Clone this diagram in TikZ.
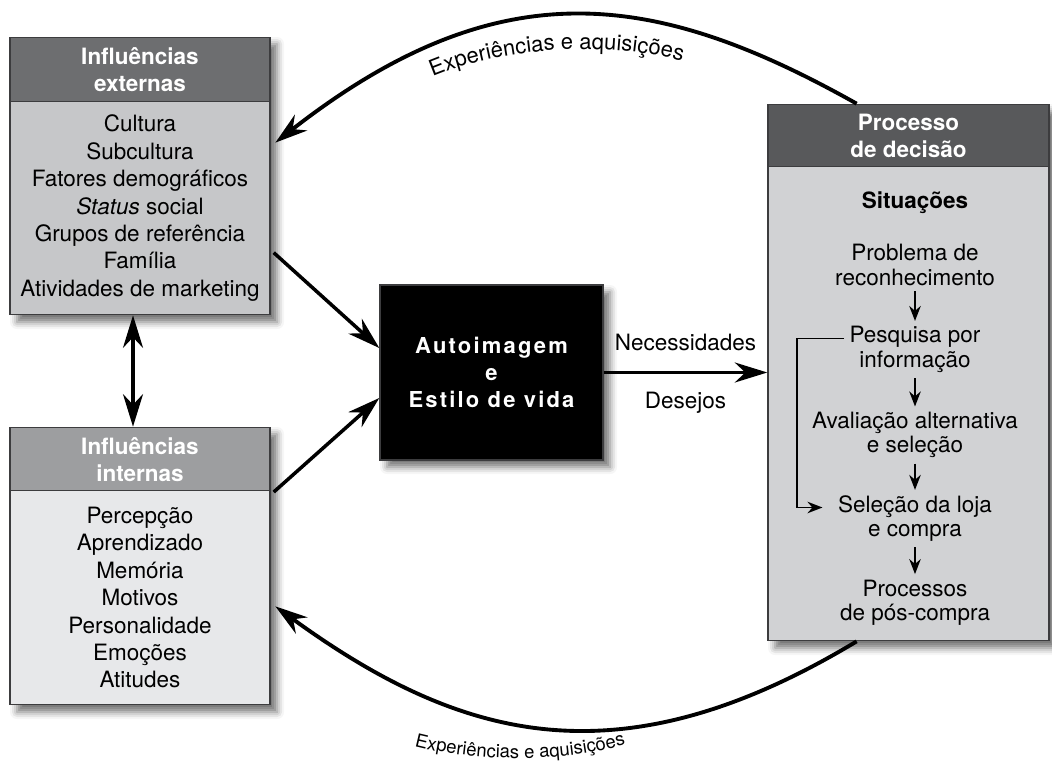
\documentclass[tikz,border=0pt]{standalone}
\usepackage{fontspec}
\setmainfont{TeX Gyre Heros}
\newfontfamily\spacedbf[LetterSpace=10]{TeX Gyre Heros}
\usetikzlibrary{arrows.meta,positioning,calc,shadows.blur,decorations.text}
\definecolor{framegray}{HTML}{3C3C3E}
\definecolor{extheadgray}{HTML}{6D6E70}
\definecolor{extbodygray}{HTML}{C6C7C9}
\definecolor{intheadgray}{HTML}{9D9EA0}
\definecolor{intbodygray}{HTML}{E7E8EA}
\definecolor{pdheadgray}{HTML}{58595B}
\definecolor{pdbodygray}{HTML}{D1D2D4}
\tikzset{
  boxshadow/.style={fill=white, inner sep=0pt, blur shadow={shadow xshift=4pt, shadow yshift=-4pt, shadow blur radius=4pt, shadow opacity=55}},
  headbox/.style={draw=framegray, line width=0.8pt, text=white, font=\bfseries, align=center, inner sep=0pt},
  bodybox/.style={draw=framegray, line width=0.8pt, align=center, inner sep=0pt},
  flowtext/.style={align=center, inner sep=3pt, font=\fontsize{12.8}{13.8}\selectfont},
  bigarrow/.style={-{Stealth[length=6.5mm,width=4mm]}, line width=2pt},
  twoway/.style={{Stealth[length=6.5mm,width=4mm]}-{Stealth[length=6.5mm,width=4mm]}, line width=1.8pt},
  flowarrow/.style={-{Stealth[length=3mm,width=2.3mm]}, line width=1.1pt}
}
\begin{document}
\fontsize{12.8}{15.6}\selectfont
\begin{tikzpicture}
  \useasboundingbox (0,0) rectangle (21.04,-15.3);
  % external influences
  \node[boxshadow, minimum width=5.2cm, minimum height=5.56cm] (ext) at (2.8,-3.52) {};
  \node[headbox, fill=extheadgray, minimum width=5.2cm, minimum height=1.3cm, anchor=north] (extH) at (ext.north) {Influências\\externas};
  \node[bodybox, fill=extbodygray, minimum width=5.2cm, minimum height=4.26cm, anchor=south] (extB) at (ext.south) {
    Cultura\\Subcultura\\Fatores demográficos\\\textit{Status} social\\Grupos de referência\\Família\\Atividades de marketing};
  % internal influences
  \node[boxshadow, minimum width=5.2cm, minimum height=5.56cm] (int) at (2.8,-11.32) {};
  \node[headbox, fill=intheadgray, minimum width=5.2cm, minimum height=1.28cm, anchor=north] (intH) at (int.north) {Influências\\internas};
  \node[bodybox, fill=intbodygray, minimum width=5.2cm, minimum height=4.28cm, anchor=south] (intB) at (int.south) {
    Percepção\\Aprendizado\\Memória\\Motivos\\Personalidade\\Emoções\\Atitudes};
  % decision process
  \node[boxshadow, minimum width=5.62cm, minimum height=10.74cm] (pd) at (18.17,-7.45) {};
  \node[headbox, fill=pdheadgray, minimum width=5.62cm, minimum height=1.26cm, anchor=north] (pdH) at (pd.north) {Processo\\de decisão};
  \node[bodybox, fill=pdbodygray, minimum width=5.62cm, minimum height=9.48cm, anchor=south] (pdB) at (pd.south) {};
  \node[flowtext, font=\bfseries] (sit) at (18.3,-4.06) {Situações};
  \node[flowtext] (prob) at (18.3,-5.3) {Problema de\\reconhecimento};
  \node[flowtext] (pesq) at (18.3,-6.99) {Pesquisa por\\informação};
  \node[flowtext] (aval) at (18.3,-8.7) {Avaliação alternativa\\e seleção};
  \node[flowtext] (sel) at (18.3,-10.37) {Seleção da loja\\e compra};
  \node[flowtext] (pos) at (18.3,-12.05) {Processos\\de pós-compra};
  \draw[flowarrow] (prob) -- (pesq);
  \draw[flowarrow] (pesq) -- (aval);
  \draw[flowarrow] (aval) -- (sel);
  \draw[flowarrow] (sel) -- (pos);
  \draw[flowarrow, shorten >=0.2cm] ([yshift=0.22cm]pesq.west) -- ++(-0.94,0) |- ([yshift=0.22cm]sel.west);
  % self image
  \node[fill=black, draw=framegray, line width=0.8pt, minimum width=4.46cm, minimum height=3.5cm, text=white, align=center,
        font=\spacedbf\bfseries\fontsize{12.5}{15.3}\selectfont,
        blur shadow={shadow xshift=4pt, shadow yshift=-4pt, shadow blur radius=4pt, shadow opacity=55}] (self) at (9.83,-7.45) {Autoimagem\\e\\Estilo de vida};
  % connectors
  \draw[bigarrow] ([xshift=0.06cm,yshift=-0.89cm]extB.east) -- ([yshift=0.49cm]self.west);
  \draw[bigarrow] ([xshift=0.06cm]intH.south east) -- ([yshift=-0.51cm]self.west);
  \draw[twoway] ([xshift=-0.14cm]ext.south) -- ([xshift=-0.14cm]int.north);
  \draw[bigarrow] (self.east) -- (self.east -| pdB.west)
    node[midway, above=0.4cm, inner sep=0pt] (need) {Necessidades}
    node[midway, below=0.35cm, inner sep=0pt] (wish) {Desejos};
  \draw[bigarrow, line width=2.2pt] ([xshift=1.78cm]pd.north west) .. controls (13.12,0.18) and (10,0.66) .. ([xshift=0.1cm,yshift=-2.12cm]ext.north east);
  \draw[bigarrow, line width=2.2pt] ([xshift=1.78cm]pd.south west) .. controls (12.34,-15.72) and (9.16,-14.78) .. ([xshift=0.1cm,yshift=1.98cm]int.south east);
  % arc labels
  \path[decorate, decoration={text along path, text align=center,
        text={|\fontsize{12.5}{14}\selectfont|Experiências e aquisições}}]
    (8.5,-1.6) .. controls (10,-0.9) and (12.4,-0.8) .. (13.8,-1.28);
  \path[decorate, decoration={text along path, text align=center,
        text={|\fontsize{10.5}{12}\selectfont|Experiências e aquisições}}]
    (8.0,-14.84) .. controls (9.4,-15.28) and (11.4,-15.28) .. (12.8,-14.8);
\end{tikzpicture}
\end{document}
